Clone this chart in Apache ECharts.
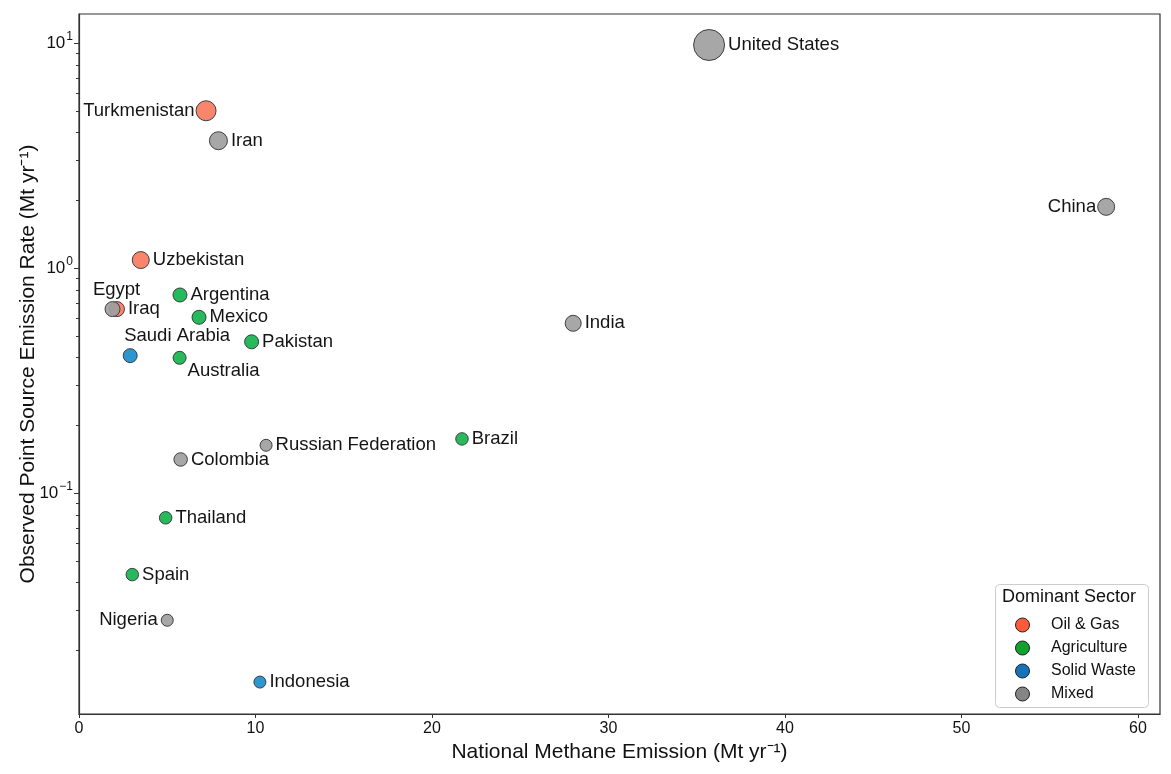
<!DOCTYPE html>
<html>
<head>
<meta charset="utf-8">
<script src="https://cdn.jsdelivr.net/npm/echarts@6/dist/echarts.min.js"></script>
<style>html,body{margin:0;padding:0;background:#fff;}#chart{width:1171px;height:774px;}</style>
</head>
<body>
<div id="chart"></div>
<script>
// ---- data ----
const countries = ['United States','Turkmenistan','Iran','China','Uzbekistan','India','Egypt','Iraq','Argentina','Mexico','Pakistan','Saudi Arabia','Australia','Colombia','Russian Federation','Brazil','Thailand','Spain','Nigeria','Indonesia'];
const sectors = ['Mixed','Oil & Gas','Mixed','Mixed','Oil & Gas','Mixed','Mixed','Oil & Gas','Agriculture','Agriculture','Agriculture','Solid Waste','Agriculture','Mixed','Mixed','Agriculture','Agriculture','Agriculture','Mixed','Solid Waste'];
const nationalEmission = [35.7, 7.2, 7.9, 58.2, 3.5, 28.0, 1.9, 2.15, 5.72, 6.8, 9.78, 2.9, 5.7, 5.76, 10.6, 21.7, 4.91, 3.02, 5.0, 10.25];
const pointSourceRate = [9.8, 5.0, 3.68, 1.87, 1.085, 0.568, 0.657, 0.657, 0.759, 0.604, 0.470, 0.408, 0.399, 0.141, 0.163, 0.174, 0.0776, 0.0434, 0.0272, 0.01445];
const bubbleValue = [31, 20, 18, 17, 17, 16, 15, 15, 14, 14, 14, 14, 13, 13.5, 12, 12.5, 12.5, 12.5, 12, 12];
const sectorNames = ['Oil & Gas','Agriculture','Solid Waste','Mixed'];
const yMajorTicks = [0.1, 1, 10];
const yMajorLabels = ['10{s|−1}', '10{s|0}', '10{s|1}'];
const xTicks = [0, 10, 20, 30, 40, 50, 60];

// ---- styles ----
const fillColors = {'Oil & Gas':'#F97B61','Agriculture':'#17B34F','Solid Waste':'#1C8DCB','Mixed':'#A0A0A0'};
const legendColors = {'Oil & Gas':'#FF5B3A','Agriculture':'#10A22C','Solid Waste':'#1573B9','Mixed':'#858585'};
const labelCfg = {
  'Turkmenistan': {position:'left', distance:1},
  'China': {position:'left', distance:1},
  'Nigeria': {position:'left', distance:3},
  'Egypt': {position:'top', distance:2, offset:[4,0]},
  'Saudi Arabia': {position:'top', distance:3, align:'left', offset:[-6,0]},
  'Australia': {position:'right', distance:3, offset:[-2,13]}
};

const log10 = v => Math.log10(v);
const yMin = -1.982, yMax = 1.129;
const minorTicks = [];
[-2,-1,0,1].forEach(e => { for (let m = 2; m <= 9; m++) { const v = Math.log10(m) + e; if (v > yMin && v < yMax) minorTicks.push(v); } });

const series = sectorNames.map(sec => {
  const data = [];
  countries.forEach((c, i) => {
    if (sectors[i] !== sec) return;
    const lc = labelCfg[c] || {position:'right', distance:3};
    data.push({
      name: c,
      value: [nationalEmission[i], log10(pointSourceRate[i]), bubbleValue[i]],
      label: Object.assign({show:true, formatter: c}, lc)
    });
  });
  return {
    name: sec, type: 'scatter', data,
    symbolSize: v => v[2],
    itemStyle: {color: fillColors[sec], borderColor:'#333', borderWidth:1, opacity:0.92},
    label: {show:true, color:'#000', fontSize:18.5, fontFamily:'Liberation Sans'},
    emphasis: {disabled:true}
  };
});

const chart = echarts.init(document.getElementById('chart'), null, {renderer:'canvas'});
chart.setOption({
  animation: false,
  textStyle: {fontFamily:'Liberation Sans'},
  grid: {left:79, right:11, top:14, bottom:60, show:true, borderColor:'#333', borderWidth:1.2, backgroundColor:'transparent'},
  xAxis: {
    type:'value', min:0, max:61.25, interval:10,
    name:'National Methane Emission (Mt yr⁻¹)', nameLocation:'middle', nameGap:27,
    nameTextStyle:{fontSize:21, color:'#111', fontFamily:'Liberation Sans'},
    axisLine:{show:true, onZero:false, lineStyle:{color:'#333', width:1.2}},
    axisTick:{show:true, length:4, lineStyle:{color:'#333'}, customValues: xTicks},
    axisLabel:{fontSize:16, color:'#111', margin:7, customValues: xTicks},
    splitLine:{show:false}
  },
  yAxis: [{
    type:'value', min:yMin, max:yMax,
    name:'Observed Point Source Emission Rate (Mt yr⁻¹)', nameLocation:'middle', nameGap:40, nameMoveOverlap:false,
    nameTextStyle:{fontSize:21, color:'#111', fontFamily:'Liberation Sans'},
    axisLine:{show:true, onZero:false, lineStyle:{color:'#333', width:1.2}},
    axisTick:{show:true, length:5, lineStyle:{color:'#333'}, customValues: yMajorTicks.map(log10)},
    axisLabel:{color:'#111', margin:6, customValues: yMajorTicks.map(log10),
      formatter: v => { const idx = yMajorTicks.findIndex(t => Math.abs(log10(t) - v) < 1e-6); return idx >= 0 ? yMajorLabels[idx] : ''; },
      rich:{ s:{fontSize:12, verticalAlign:'top', lineHeight:24, color:'#111', padding:[0,0,9,1]} },
      fontSize:17, lineHeight:24
    },
    splitLine:{show:false}
  }, {
    type:'value', min:yMin, max:yMax, position:'left',
    axisLine:{show:false, onZero:false},
    axisTick:{show:true, length:3, lineStyle:{color:'#333'}, customValues: minorTicks},
    axisLabel:{show:false},
    splitLine:{show:false}
  }],
  legend: {
    data: sectorNames.map(n => ({name:n, itemStyle:{color:legendColors[n], opacity:1, borderColor:'#222', borderWidth:1}})),
    orient:'vertical', left:1010, top:612, itemWidth:47, itemHeight:14, itemGap:7,
    icon:'circle', textStyle:{fontSize:16, color:'#111', fontFamily:'Liberation Sans'},
    selectedMode:false, z:10
  },
  graphic: [
    {type:'rect', left:995, top:584, shape:{width:153, height:123, r:4}, style:{fill:'#fff', stroke:'#cccccc', lineWidth:1}, z:5},
    {type:'text', left:1002, top:588, style:{text:'Dominant Sector', fontSize:18, fill:'#111', fontFamily:'Liberation Sans'}, z:6}
  ],
  series
});
</script>
</body>
</html>
